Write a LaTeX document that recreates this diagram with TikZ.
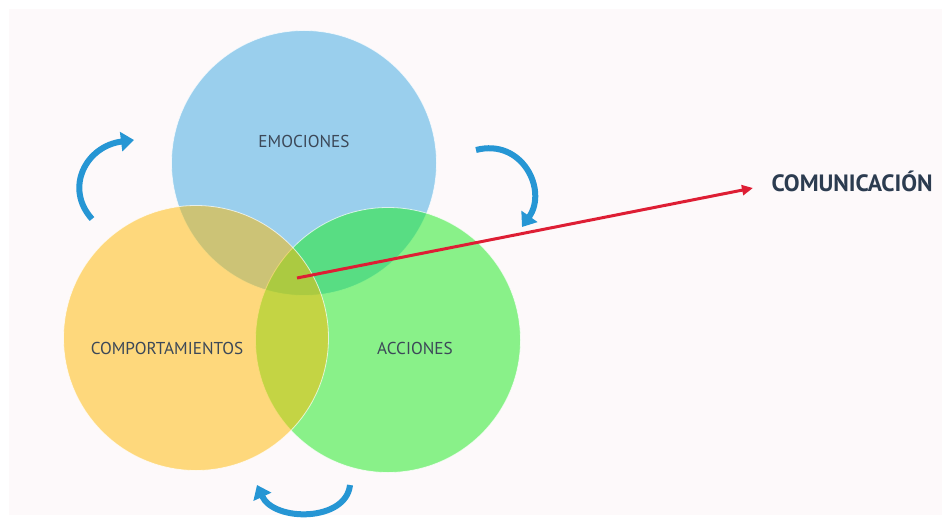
\documentclass[tikz,border=0pt]{standalone}
\usepackage{fontspec}
\setmainfont{PT Sans}
\usetikzlibrary{arrows.meta,positioning}
\definecolor{bgpink}{RGB}{253,249,250}
\definecolor{setblue}{RGB}{57,167,226}
\definecolor{setgreen}{RGB}{23,235,26}
\definecolor{setyellow}{RGB}{255,185,0}
\definecolor{swooshblue}{RGB}{38,150,212}
\definecolor{linkred}{RGB}{222,30,52}
\definecolor{labelgray}{RGB}{60,72,88}
\definecolor{titlenavy}{RGB}{44,60,80}

\begin{document}
\begin{tikzpicture}[
  x=1pt, y=-1pt,
  setdisk/.style={circle, draw=white, draw opacity=0.7, line width=0.8pt, fill opacity=0.5, minimum size=265pt, inner sep=0pt},
  setlabel/.style={font=\fontsize{17.2}{20}\selectfont, text=labelgray},
  swoosh/.style={-{Triangle[length=13pt, width=19pt]}, swooshblue, line width=6pt},
  link/.style={-{Triangle[length=11pt, width=10pt]}, linkred, line width=3pt}
]
  % Canvas and background panel
  \useasboundingbox (0,0) rectangle (942,519);
  \fill[white] (0,0) rectangle (942,519);
  \fill[bgpink] (9,9) rectangle (942,515);

  % The three sets (blue, green, yellow on top)
  \node[setdisk, fill=setblue] (emo) at (304,163) {};
  \node[setdisk, fill=setgreen] (acc) at (388,340) {};
  \node[setdisk, fill=setyellow] (comp) at (196,338) {};

  % Set names
  \node[setlabel] (emolabel) at (304,141) {EMOCIONES};
  \node[setlabel] (complabel) at (167,348) {COMPORTAMIENTOS};
  \node[setlabel] (acclabel) at (415,348) {ACCIONES};

  % Cycle arrows round the sets
  \draw[swoosh] (92,219) .. controls (64,188) and (86,146) .. (134,140);
  \draw[swoosh] (476,150) .. controls (522,138) and (548,190) .. (522,227);
  \draw[swoosh] (350,485) .. controls (346,522) and (274,522) .. (257,485);

  % Common core pointing to the result
  \coordinate (core) at (297,278);
  \node[font=\fontsize{23.6}{27}\selectfont\bfseries, text=titlenavy, anchor=west] (com) at (768,181) {COMUNICACIÓN};
  \coordinate (tip) at (753,188);
  \draw[link] (core) -- (tip);

\end{tikzpicture}
\end{document}
